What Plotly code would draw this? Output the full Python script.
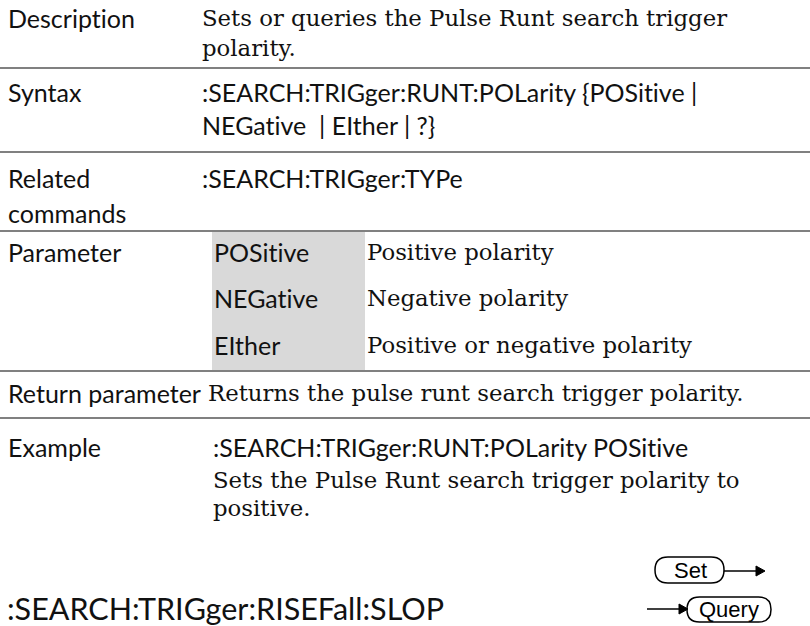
import plotly.graph_objects as go

# ---- content ----
row_labels = ["Description", "Syntax", "Related", "commands", "Parameter",
              "Return parameter", "Example"]
label_y = [18, 92, 178, 213, 252, 393, 447]

desc_lines = ["Sets or queries the Pulse Runt search trigger", "polarity."]
desc_y = [18, 48]

syntax_lines = [":SEARCH:TRIGger:RUNT:POLarity {POSitive |", "NEGative  | EIther | ?}"]
syntax_y = [92, 125]

related_cmd = ":SEARCH:TRIGger:TYPe"
related_y = 178

param_names = ["POSitive", "NEGative", "EIther"]
param_desc = ["Positive polarity", "Negative polarity", "Positive or negative polarity"]
param_y = [252, 298, 345]

return_text = "Returns the pulse runt search trigger polarity."
return_y = 393

example_cmd = ":SEARCH:TRIGger:RUNT:POLarity POSitive"
example_cmd_y = 447
example_desc = ["Sets the Pulse Runt search trigger polarity to", "positive."]
example_desc_y = [480, 508]

next_title = ":SEARCH:TRIGger:RISEFall:SLOP"
next_title_y = 608

rule_y = [68, 152, 231, 371, 418]

SANS = "Lato"
SERIF = "DejaVu Serif"
SANS_SIZE = 25
SERIF_SIZE = 22.8
W, H = 810, 626

def nolig(s):
    # break the Lato "ti" ligature
    return s.replace("ti", "t\u200ci")

fig = go.Figure()
fig.add_trace(go.Scatter(x=[0, W], y=[0, H], mode="markers",
                         marker=dict(opacity=0), hoverinfo="skip", showlegend=False))

shapes = []
ann = []

def text(x, y, s, font, size, color="#111111", xanchor="left"):
    ann.append(dict(x=x, y=y, xref="x", yref="y", text=s, showarrow=False,
                    xanchor=xanchor, yanchor="middle",
                    font=dict(family=font, size=size, color=color)))

# grey shade for parameter names
shapes.append(dict(type="rect", x0=212, x1=365, y0=231, y1=370,
                   fillcolor="#d9d9d9", line=dict(width=0), layer="below"))

# horizontal rules
for ry in rule_y:
    shapes.append(dict(type="line", x0=0, x1=W, y0=ry, y1=ry,
                       line=dict(color="#808080", width=2)))

for s, y in zip(row_labels, label_y):
    text(6, y, nolig(s), SANS, SANS_SIZE)

for s, y in zip(desc_lines, desc_y):
    text(200, y, s, SERIF, SERIF_SIZE)
for s, y in zip(syntax_lines, syntax_y):
    text(200, y, nolig(s), SANS, SANS_SIZE)
text(200, related_y, related_cmd, SANS, SANS_SIZE)
for n, d, y in zip(param_names, param_desc, param_y):
    text(212, y, nolig(n), SANS, SANS_SIZE)
    text(365, y, d, SERIF, SERIF_SIZE)
text(206, return_y, return_text, SERIF, SERIF_SIZE)
text(211, example_cmd_y, nolig(example_cmd), SANS, SANS_SIZE)
for s, y in zip(example_desc, example_desc_y):
    text(211, y, s, SERIF, SERIF_SIZE)
text(5, next_title_y, next_title, SANS, 30.5)

# Set / Query icons
def rounded(x0, x1, y0, y1):
    r = (y1 - y0) / 2
    return (f"M {x0+r},{y0} L {x1-r},{y0} Q {x1},{y0} {x1},{y0+r} "
            f"Q {x1},{y1} {x1-r},{y1} L {x0+r},{y1} Q {x0},{y1} {x0},{y0+r} "
            f"Q {x0},{y0} {x0+r},{y0} Z")

shapes.append(dict(type="path", path=rounded(655, 724, 557, 583),
                   line=dict(color="#000", width=1.5)))
shapes.append(dict(type="line", x0=724, x1=758, y0=571, y1=571,
                   line=dict(color="#000", width=1.5)))
shapes.append(dict(type="path", path="M 756,566 L 765,571 L 756,576 Z",
                   fillcolor="#000", line=dict(color="#000", width=1)))
text(690, 570, "Set", "Liberation Sans", 22, "#000", "center")

shapes.append(dict(type="path", path=rounded(687, 771, 597, 622),
                   line=dict(color="#000", width=1.5)))
shapes.append(dict(type="line", x0=647, x1=681, y0=609, y1=609,
                   line=dict(color="#000", width=1.5)))
shapes.append(dict(type="path", path="M 679,604 L 688,609 L 679,614 Z",
                   fillcolor="#000", line=dict(color="#000", width=1)))
text(729, 609, "Query", "Liberation Sans", 22, "#000", "center")

fig.update_layout(
    width=W, height=H, margin=dict(l=0, r=0, t=0, b=0),
    paper_bgcolor="white", plot_bgcolor="white",
    xaxis=dict(range=[0, W], visible=False, fixedrange=True),
    yaxis=dict(range=[H, 0], visible=False, fixedrange=True),
    shapes=shapes, annotations=ann, showlegend=False,
)
fig.write_html("out.html", config={"displayModeBar": False},
               post_script="document.body.style.margin='0px';document.body.style.overflow='hidden';")
